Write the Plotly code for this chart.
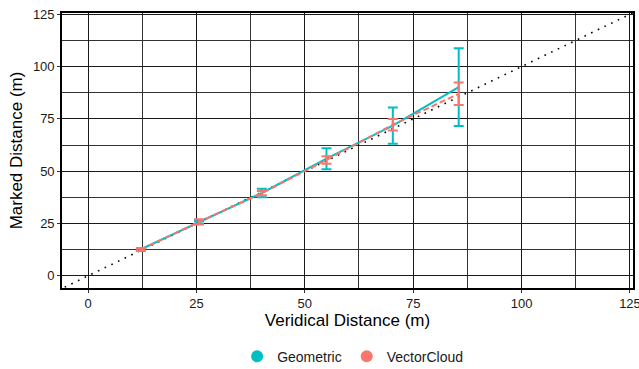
import plotly.graph_objects as go

# ---- data ----
veridical = [12.2, 25.6, 40.1, 55.0, 70.3, 85.5]
geo_mean = [12.7, 25.6, 39.6, 56.0, 71.8, 90.2]
geo_err = [0.4, 0.6, 2.0, 5.0, 8.7, 18.6]
vc_mean = [12.6, 25.8, 39.5, 55.4, 72.2, 87.0]
vc_err = [0.7, 1.2, 1.0, 1.8, 2.8, 5.4]
ref_line = [-10, 135]
series_names = ["Geometric", "VectorCloud"]
tick_vals = [0, 25, 50, 75, 100, 125]

TEAL = "#00BFC4"
SALMON = "#F8766D"
FONT = "Liberation Sans, Arial, sans-serif"

fig = go.Figure()

# identity reference line (dotted)
fig.add_trace(go.Scatter(
    x=ref_line, y=ref_line, mode="lines",
    line=dict(color="black", width=1.6, dash="1.6px,5.8px"),
    showlegend=False, hoverinfo="skip"))

fig.add_trace(go.Scatter(
    x=veridical, y=geo_mean, mode="lines", name=series_names[0],
    line=dict(color=TEAL, width=2),
    error_y=dict(type="data", array=geo_err, color=TEAL, thickness=2, width=5),
    showlegend=False))

fig.add_trace(go.Scatter(
    x=veridical, y=vc_mean, mode="lines", name=series_names[1],
    line=dict(color=SALMON, width=2, dash="6px,3px"),
    error_y=dict(type="data", array=vc_err, color=SALMON, thickness=2, width=5),
    showlegend=False))

# legend entries (circle keys)
for nm, col in zip(series_names, [TEAL, SALMON]):
    fig.add_trace(go.Scatter(
        x=[None], y=[None], mode="markers", name=nm,
        marker=dict(color=col, size=12, symbol="circle"),
        showlegend=True))

axis_common = dict(
    tickvals=tick_vals,
    showgrid=True, gridcolor="#1a1a1a", gridwidth=1,
    minor=dict(dtick=12.5, tick0=0, showgrid=True, gridcolor="#333333",
               gridwidth=0.8, ticks=""),
    zeroline=False,
    showline=True, linecolor="black", linewidth=1.6, mirror=True,
    ticks="outside", ticklen=3, tickwidth=1, tickcolor="#333333",
    tickfont=dict(family=FONT, size=13, color="#1a1a1a"),
    ticklabeloverflow="allow",
)

fig.update_xaxes(range=[-6.0, 125.7],
                 title=dict(text="Veridical Distance (m)", standoff=3,
                            font=dict(family=FONT, size=17, color="black")),
                 **axis_common)
fig.update_yaxes(range=[-5.8, 125.6],
                 title=dict(text="Marked Distance (m)", standoff=6,
                            font=dict(family=FONT, size=17, color="black")),
                 **axis_common)

fig.update_layout(
    width=639, height=369,
    margin=dict(l=62, r=6, t=13, b=81, autoexpand=False),
    paper_bgcolor="white", plot_bgcolor="white",
    font=dict(family=FONT),
    legend=dict(orientation="h", x=0.509, xanchor="center",
                y=-0.25, yanchor="middle",
                font=dict(family=FONT, size=14, color="#1a1a1a"),
                itemwidth=30, bgcolor="rgba(0,0,0,0)"),
)

fig.write_html("out.html",
               config={"displayModeBar": False},
               post_script="document.body.style.margin='0';document.body.style.overflow='hidden';")
